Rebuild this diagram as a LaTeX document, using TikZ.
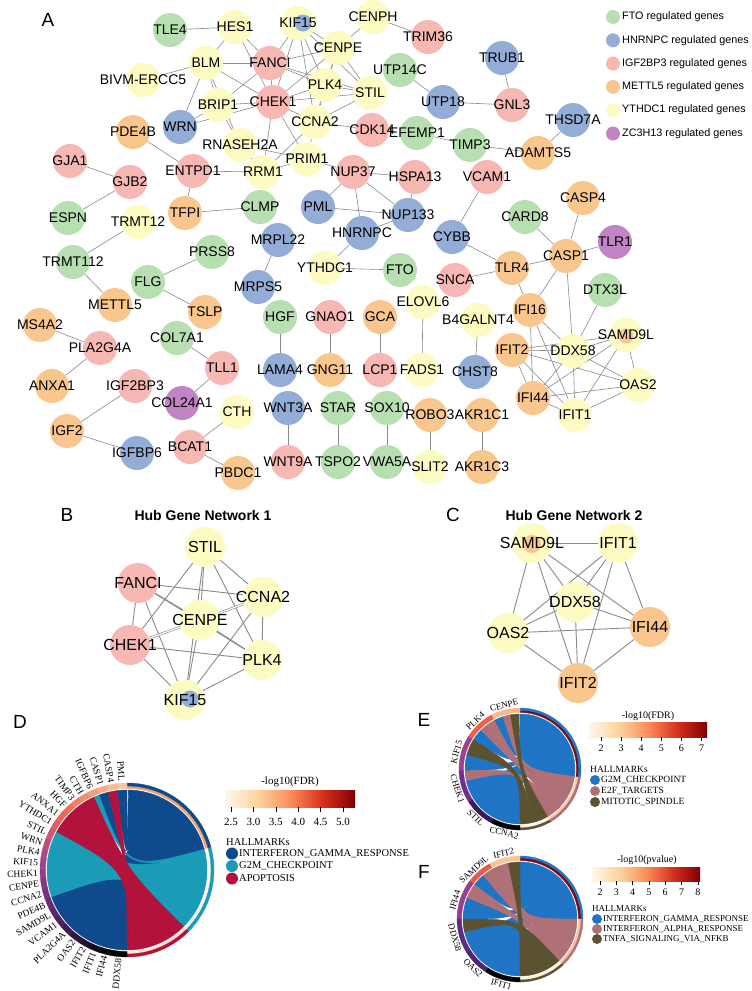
\documentclass[tikz,border=0pt]{standalone}
\usepackage{fontspec}
\setmainfont{Liberation Sans}
\newfontfamily\tnr{Liberation Serif}
\usetikzlibrary{backgrounds}
\definecolor{cfto}{HTML}{B8DFB2}
\definecolor{chnr}{HTML}{93ADD6}
\definecolor{cigf}{HTML}{F7B7B2}
\definecolor{cmet}{HTML}{F9C78E}
\definecolor{cyth}{HTML}{FBFBC2}
\definecolor{czc}{HTML}{C384C6}
\definecolor{edgec}{HTML}{8A8A8A}
\definecolor{dblue}{HTML}{0E4A8C}
\definecolor{dteal}{HTML}{1A9BB6}
\definecolor{dred}{HTML}{B3123C}
\definecolor{eblue}{HTML}{1F74C6}
\definecolor{epink}{HTML}{B07078}
\definecolor{eolive}{HTML}{5B5230}
\definecolor{g0}{HTML}{F9D0A8}
\definecolor{g1}{HTML}{EF6F55}
\definecolor{g2}{HTML}{9B3C95}
\definecolor{g3}{HTML}{3F1C55}
\definecolor{g4}{HTML}{050505}
\definecolor{s0}{HTML}{FFF7EC}
\definecolor{s1}{HTML}{FDD49E}
\definecolor{s2}{HTML}{FC8D59}
\definecolor{s3}{HTML}{D7301F}
\definecolor{s4}{HTML}{7F0000}
\definecolor{rD1}{HTML}{F5A26C}
\definecolor{rD2}{HTML}{FDF3EA}
\definecolor{rD3}{HTML}{FDE4D0}
\definecolor{rE1}{HTML}{7F0A0A}
\definecolor{rE2}{HTML}{F9CBA8}
\definecolor{rE3}{HTML}{FDF0E3}
\definecolor{rF1}{HTML}{7D0A10}
\definecolor{rF2}{HTML}{F8C49C}
\definecolor{rF3}{HTML}{FDEEE0}
\definecolor{k1}{HTML}{F8B98C}
\definecolor{k2}{HTML}{EC5F4B}
\definecolor{k3}{HTML}{A23F8E}
\definecolor{k4}{HTML}{6C2F90}
\definecolor{k5}{HTML}{3A1A5E}
\definecolor{k6}{HTML}{000000}
\definecolor{m1}{HTML}{F9C595}
\definecolor{m2}{HTML}{EA5A4C}
\definecolor{m3}{HTML}{9B3D8F}
\definecolor{m4}{HTML}{5C2C85}
\definecolor{m5}{HTML}{4C2575}
\pgfdeclarehorizontalshading{fdrshade}{100bp}{color(0bp)=(s0); color(25bp)=(s0); color(37.5bp)=(s1); color(50bp)=(s2); color(62.5bp)=(s3); color(75bp)=(s4); color(100bp)=(s4)}
\newcommand\chordrib[6]{\filldraw[fill=#6,draw=#6,line width=0.4pt] (#1:#5) arc[start angle=#1,end angle=#2,radius=#5] .. controls (0,0) .. (#3:#5) arc[start angle=#3,end angle=#4,radius=#5] .. controls (0,0) .. (#1:#5) -- cycle;}
\newcommand\chordseg[5]{\filldraw[fill=#5,draw=#5,line width=0.3pt] (#1:#4) arc[start angle=#1,end angle=#2,radius=#4] -- (#2:#3) arc[start angle=#2,end angle=#1,radius=#3] -- cycle;}
% tangential label: name, angle, radius, text
\newcommand\tanlab[4]{\ifdim #2pt<180pt
  \node[elab,anchor=south,rotate=#2-90] (#1) at (#2:#3) {#4};
 \else
  \node[elab,anchor=north,rotate=#2-270] (#1) at (#2:#3) {#4};
 \fi}
\def\geneA{TLE4/170/30/cfto, HES1/235/27/cyth, KIF15/298/23/cyth, CENPH/373/17/cyth, TRIM36/428/37/cigf, BLM/206/63/cyth, FANCI/270/63/cigf, CENPE/338/48/cyth, BIVM-ERCC5/143/80/cyth, UTP14C/400/70/cfto, TRUB1/502/58/chnr, PLK4/325/85/cyth, STIL/370/93/cyth, BRIP1/218/105/cyth, CHEK1/273/102/cigf, UTP18/443/102/chnr, GNL3/512/105/cigf, THSD7A/573/120/chnr, WRN/180/127/chnr, PDE4B/133/132/cmet, CCNA2/315/122/cyth, CDK14/372/130/cigf, EFEMP1/417/133/cfto, TIMP3/470/145/cfto, RNASEH2A/240/145/cyth, ADAMTS5/538/153/cmet, GJA1/70/161/cigf, PRIM1/307/159/cyth, RRM1/263/172/cyth, ENTPD1/193/171/cigf, NUP37/353/172/cigf, HSPA13/415/177/cigf, VCAM1/487/177/cigf, GJB2/130/182/cigf, CASP4/583/198/cmet, CLMP/260/207/cfto, TFPI/185/213/cmet, PML/318/207/chnr, NUP133/408/215/chnr, ESPN/68/218/cfto, CARD8/525/217/cfto, TRMT12/138/222/cyth, HNRNPC/362/233/chnr, CYBB/452/237/chnr, MRPL22/278/240/chnr, TLR1/615/242/czc, CASP1/566/256/cmet, PRSS8/212/252/cfto, TRMT112/73/262/cfto, YTHDC1/325/268/cyth, FTO/400/270/cfto, TLR4/512/268/cmet, SNCA/455/280/cigf, FLG/148/282/cfto, MRPS5/258/287/chnr, DTX3L/605/290/cfto, ELOVL6/423/302/cyth, METTL5/115/305/cmet, IFI16/530/310/cmet, TSLP/205/312/cmet, HGF/280/317/cfto, GNAO1/330/317/cigf, GCA/380/317/cmet, B4GALNT4/478/320/cyth, MS4A2/40/325/cmet, SAMD9L/626/335/cyth, COL7A1/177/338/cfto, PLA2G4A/100/348/cigf, IFIT2/512/350/cmet, DDX58/573/351/cyth, TLL1/222/368/cigf, LAMA4/280/370/chnr, GNG11/330/370/cmet, LCP1/380/370/cigf, FADS1/422/370/cyth, CHST8/475/372/chnr, OAS2/638/385/cyth, ANXA1/52/386/cmet, IGF2BP3/135/386/cigf, IFI44/533/398/cmet, COL24A1/182/403/czc, CTH/237/412/cyth, WNT3A/288/408/chnr, STAR/338/408/cfto, SOX10/387/408/cfto, ROBO3/430/415/cmet, AKR1C1/482/415/cmet, IFIT1/575/415/cyth, IGF2/67/431/cmet, BCAT1/190/447/cigf, IGFBP6/137/453/chnr, WNT9A/288/462/cigf, TSPO2/338/462/cfto, VWA5A/387/462/cfto, SLIT2/430/467/cyth, AKR1C3/482/467/cmet, PBDC1/238/473/cmet}
\def\geneB{bSTIL/205/547/cyth/STIL, bFANCI/138/583/cigf/FANCI, bCCNA2/263/597/cyth/CCNA2, bCENPE/200/620/cyth/CENPE, bCHEK1/130/645/cigf/CHEK1, bPLK4/262/660/cyth/PLK4, bKIF15/185/700/cyth/KIF15, cSAMD9L/532/543/cyth/SAMD9L, cIFIT1/618/543/cyth/IFIT1, cDDX58/575/602/cyth/DDX58, cOAS2/508/633/cyth/OAS2, cIFI44/650/627/cmet/IFI44, cIFIT2/578/683/cmet/IFIT2}
\begin{document}
\begin{tikzpicture}[x=1pt,y=-1pt,
 gc/.style={circle,minimum size=34pt,inner sep=0pt},
 glab/.style={font=\fontsize{14}{14}\selectfont,inner sep=0pt},
 bc/.style={circle,minimum size=40pt,inner sep=0pt},
 blab/.style={font=\fontsize{16}{16}\selectfont,inner sep=0pt},
 edge/.style={draw=edgec,line width=0.6pt},
 bedge/.style={draw=edgec,line width=0.9pt},
 panel/.style={font=\fontsize{19}{19}\selectfont,inner sep=0pt},
 htitle/.style={font=\bfseries\fontsize{14}{14}\selectfont,inner sep=0pt},
 legt/.style={font=\fontsize{10.8}{11}\selectfont,anchor=west,inner sep=0pt},
 legc/.style={circle,minimum size=14pt,inner sep=0pt},
 dlab/.style={font=\tnr\fontsize{9.5}{9.5}\selectfont,inner sep=0pt,anchor=east},
 elab/.style={font=\tnr\fontsize{9}{9}\selectfont,inner sep=0.5pt},
 hmk/.style={font=\tnr\fontsize{10.5}{10.5}\selectfont,anchor=west,inner sep=0pt},
 hmke/.style={font=\tnr\fontsize{9.5}{9.5}\selectfont,anchor=west,inner sep=0pt},
 hmkf/.style={font=\tnr\fontsize{9}{9}\selectfont,anchor=west,inner sep=0pt},
 cbl/.style={font=\tnr\fontsize{10}{10}\selectfont,inner sep=0pt},
 cbt/.style={font=\tnr\fontsize{10}{10}\selectfont,inner sep=0pt},
 tick/.style={draw=black,line width=0.5pt}]
\useasboundingbox (0,0) rectangle (752,991);
\begin{scope}[on background layer]
\fill[white] (0,0) rectangle (752,991);
\end{scope}
% ---------- panel A ----------
\foreach \nm/\px/\py/\cc in \geneA {\node[gc,fill=\cc] (\nm) at (\px,\py) {};}
\node[circle,fill=chnr,minimum size=17pt,inner sep=0pt] (KIF15p) at (303,23) {};
\node[circle,fill=cmet,minimum size=15pt,inner sep=0pt] (SAMD9Lp) at (626,336) {};
\foreach \nm/\px/\py/\cc in \geneA {\node[glab] (t\nm) at (\nm) {\nm};}
\begin{scope}[on background layer]
\foreach \ea/\eb in {TLE4/HES1, HES1/BLM, HES1/FANCI, HES1/CHEK1, BLM/FANCI, BLM/BIVM-ERCC5, BLM/BRIP1, BLM/WRN, BLM/CHEK1, BLM/RNASEH2A, BRIP1/FANCI, BRIP1/CHEK1, BRIP1/WRN, WRN/CHEK1, BRIP1/RNASEH2A, PDE4B/ENTPD1, GJA1/GJB2, ENTPD1/RRM1, ENTPD1/TFPI, RNASEH2A/RRM1, RNASEH2A/PRIM1, KIF15/FANCI, KIF15/CHEK1, KIF15/CENPE, KIF15/PLK4, KIF15/STIL, KIF15/CCNA2, CENPH/CENPE, CENPH/TRIM36, CENPE/FANCI, CENPE/CHEK1, CENPE/PLK4, CENPE/STIL, CENPE/CCNA2, FANCI/PLK4, FANCI/CHEK1, FANCI/STIL, PLK4/STIL, PLK4/CHEK1, PLK4/CCNA2, STIL/CHEK1, STIL/CCNA2, CHEK1/CCNA2, CHEK1/PRIM1, CHEK1/RRM1, CCNA2/CDK14, CCNA2/PRIM1, CCNA2/RRM1, PRIM1/RRM1, UTP14C/UTP18, UTP18/GNL3, TRUB1/GNL3, EFEMP1/TIMP3, TIMP3/ADAMTS5, THSD7A/ADAMTS5, PRIM1/NUP37, NUP37/HSPA13, NUP37/PML, NUP37/HNRNPC, NUP37/NUP133, HSPA13/NUP133, PML/NUP133, HNRNPC/NUP133, HNRNPC/YTHDC1, YTHDC1/FTO, MRPL22/MRPS5, VCAM1/CYBB, CYBB/TLR4, SNCA/TLR4, HGF/LAMA4, GNAO1/GNG11, GCA/LCP1, ELOVL6/FADS1, B4GALNT4/CHST8, CLMP/TFPI, GJB2/ESPN, TRMT12/TRMT112, TRMT112/METTL5, PRSS8/FLG, FLG/TSLP, MS4A2/PLA2G4A, PLA2G4A/ANXA1, COL7A1/TLL1, TLL1/COL24A1, IGF2BP3/IGF2, IGF2/IGFBP6, CTH/BCAT1, BCAT1/PBDC1, WNT3A/WNT9A, STAR/TSPO2, SOX10/VWA5A, ROBO3/SLIT2, AKR1C1/AKR1C3, CASP4/CASP1, CARD8/CASP1, TLR1/CASP1, TLR4/CASP1, CASP1/IFI16, CASP1/DDX58, TLR4/IFI16, DTX3L/DDX58, IFI16/DDX58, IFI16/IFI44, IFI16/IFIT1, IFIT2/DDX58, IFIT2/SAMD9L, IFIT2/OAS2, IFIT2/IFIT1, IFIT2/IFI44, DDX58/SAMD9L, DDX58/OAS2, DDX58/IFIT1, DDX58/IFI44, SAMD9L/OAS2, SAMD9L/IFI44, SAMD9L/IFIT1, OAS2/IFI44, OAS2/IFIT1, IFI44/IFIT1}
  {\draw[edge] (\ea) -- (\eb);}
\end{scope}
% legend
\foreach \cc/\tx [count=\i from 0] in {cfto/FTO, chnr/HNRNPC, cigf/IGF2BP3, cmet/METTL5, cyth/YTHDC1, czc/ZC3H13}
 {\node[legc,fill=\cc] (lg\i) at (613,17+23.3*\i) {};
  \node[legt] (lgt\i) at (622,17+23.3*\i) {\tx\ regulated genes};}
\node[panel] (pA) at (48,20) {A};
% ---------- panels B and C ----------
\node[panel] (pB) at (67,515) {B};
\node[panel] (pC) at (453,515) {C};
\node[htitle] (tB) at (203,515) {Hub Gene Network 1};
\node[htitle] (tC) at (574,515) {Hub Gene Network 2};
\foreach \nm/\px/\py/\cc/\tx in \geneB {\node[bc,fill=\cc] (\nm) at (\px,\py) {};}
\node[circle,fill=chnr,minimum size=17pt,inner sep=0pt] (bKIF15p) at (190,699) {};
\node[circle,fill=cmet,minimum size=18pt,inner sep=0pt] (cSAMD9Lp) at (532,544) {};
\foreach \nm/\px/\py/\cc/\tx in \geneB {\node[blab] (t\nm) at (\nm) {\tx};}
\begin{scope}[on background layer]
\foreach \ea/\eb in {bSTIL/bCCNA2, bSTIL/bCENPE, bSTIL/bCHEK1, bSTIL/bPLK4, bSTIL/bKIF15, bFANCI/bCCNA2, bFANCI/bCENPE, bFANCI/bCHEK1, bFANCI/bPLK4, bFANCI/bKIF15, bCCNA2/bCHEK1, bCCNA2/bPLK4, bCCNA2/bKIF15, bCENPE/bPLK4, bCENPE/bKIF15, bCHEK1/bPLK4, bCHEK1/bKIF15, bPLK4/bKIF15, cSAMD9L/cIFIT1, cSAMD9L/cDDX58, cSAMD9L/cOAS2, cSAMD9L/cIFI44, cSAMD9L/cIFIT2, cIFIT1/cDDX58, cIFIT1/cOAS2, cIFIT1/cIFI44, cIFIT1/cIFIT2, cDDX58/cOAS2, cDDX58/cIFI44, cDDX58/cIFIT2, cOAS2/cIFI44, cOAS2/cIFIT2, cIFI44/cIFIT2}
  {\draw[bedge] (\ea) -- (\eb);}
\draw[draw=edgec,line width=0.6pt,double=white,double distance=1.2pt] (bCENPE) -- (bCCNA2);
\draw[draw=edgec,line width=0.6pt,double=white,double distance=1.2pt] (bCENPE) -- (bCHEK1);
\end{scope}
% ---------- panel D ----------
\node[panel] (pD) at (20,722) {D};
\begin{scope}[shift={(127,870)},yscale=-1]
 \chordrib{199.5}{270}{375}{438}{80}{dblue}
 \chordrib{151.5}{199.5}{315}{371}{80}{dteal}
 \chordrib{114}{151.5}{274}{315}{80}{dred}
 \chordrib{90}{97}{443}{449}{80}{dblue}
 \chordrib{103.5}{110.5}{438}{443}{80}{dblue}
 \chordrib{110.5}{114}{371}{375}{80}{dteal}
 \chordrib{97}{103.5}{270}{274}{80}{dred}
 \chordseg{15}{90}{81.5}{84}{rD1}
 \chordseg{15}{90}{84}{87}{dblue}
 \chordseg{-45}{15}{81.5}{84}{rD2}
 \chordseg{-45}{15}{84}{87}{dteal}
 \chordseg{-90}{-45}{81.5}{84}{rD3}
 \chordseg{-90}{-45}{84}{87}{dred}
 \foreach \g/\aa/\ab/\cl/\md in {PML/90/97/g0!91!g1/93.5, CASP4/97/103.5/g0!78!g1/100.2, CASP1/103.5/110.5/g0!62!g1/107, IGFBP6/110.5/117.5/g0!47!g1/114, CTH/117.5/124/g0!31!g1/120.7, TIMP3/124/130.5/g0!18!g1/127.2, HGF/130.5/137.5/g1/134, ANXA1/137.5/144.5/g1!87!g2/141, YTHDC1/144.5/151.5/g1!71!g2/148, STIL/151.5/158.5/g1!56!g2/155, WRN/158.5/165.5/g1!40!g2/162, PLK4/165.5/172/g1!24!g2/168.7, KIF15/172/179/g1!10!g2/175.5, CHEK1/179/185.5/g2!96!g3/182.2, CENPE/185.5/192.5/g2!80!g3/189, CCNA2/192.5/199.5/g2!64!g3/196, PDE4B/199.5/206.5/g2!49!g3/203, SAMD9L/206.5/213.5/g2!33!g3/210, VCAM1/213.5/221/g2!18!g3/217.2, PLA2G4A/221/229/g3/225, OAS2/229/237/g3!75!g4/233, IFIT2/237/244.5/g3!50!g4/240.7, IFIT1/244.5/251.5/g3!30!g4/248, IFI44/251.5/259/g3!15!g4/255.2, DDX58/259/270/g4/264.5}
 {\chordseg{\aa}{\ab}{81.5}{87}{\cl}
  \node[dlab,rotate=\md-180] (d\g) at (\md:89) {\g};}
\end{scope}
\node[cbl,font=\tnr\fontsize{11}{11}\selectfont] (dcb) at (290,782) {-log10(FDR)};
\shade[shading=fdrshade] (225,790) rectangle (355,807);
\foreach \v [count=\i from 0] in {2.5,3.0,3.5,4.0,4.5,5.0}
 {\draw[tick] (231+22.4*\i,807) -- ++(0,5);
  \node[cbt,font=\tnr\fontsize{11}{11}\selectfont] (dt\i) at (231+22.4*\i,822) {\v};}
\node[hmk] (dh) at (226,842) {HALLMARKs};
\foreach \cc/\tx [count=\i] in {dblue/INTERFERON\_GAMMA\_RESPONSE, dteal/G2M\_CHECKPOINT, dred/APOPTOSIS}
 {\node[circle,fill=\cc,minimum size=12pt,inner sep=0pt] (dhc\i) at (232,841+12.5*\i) {};
  \node[hmk] (dht\i) at (239,841+12.5*\i) {\tx};}
% ---------- panel E ----------
\node[panel] (pE) at (424,720) {E};
\begin{scope}[shift={(520,769)},yscale=-1]
 \chordrib{240}{270}{352}{372}{55}{eblue}
 \chordrib{213}{240}{372}{392}{55}{eblue}
 \chordrib{192}{213}{392}{410}{55}{eblue}
 \chordrib{165}{182}{410}{424}{55}{eblue}
 \chordrib{135}{148}{424}{436}{55}{eblue}
 \chordrib{108}{118}{436}{450}{55}{eblue}
 \chordrib{182}{192}{300}{315}{55}{epink}
 \chordrib{118}{135}{315}{338}{55}{epink}
 \chordrib{100}{108}{338}{352}{55}{epink}
 \chordrib{148}{165}{270}{285}{55}{eolive}
 \chordrib{91}{100}{285}{300}{55}{eolive}
 \chordseg{-8}{90}{56.5}{58.8}{rE1}
 \chordseg{-8}{90}{58.8}{61}{eblue}
 \chordseg{-60}{-8}{56.5}{58.8}{rE2}
 \chordseg{-60}{-8}{58.8}{61}{epink}
 \chordseg{-90}{-60}{56.5}{58.8}{rE3}
 \chordseg{-90}{-60}{58.8}{61}{eolive}
 \foreach \g/\aa/\ab/\cl/\md in {CENPE/90/118/k1/104, PLK4/118/148/k2/133, KIF15/148/182/k3/165, CHEK1/182/213/k4/197.5, STIL/213/242/k5/227.5, CCNA2/242/270/k6/256}
 {\chordseg{\aa}{\ab}{56.5}{61}{\cl}
  \tanlab{e\g}{\md}{62}{\g}}
\end{scope}
\node[cbl] (ecb) at (648,716) {-log10(FDR)};
\shade[shading=fdrshade] (589,722) rectangle (707,737);
\foreach \v [count=\i from 0] in {2,3,4,5,6,7}
 {\draw[tick] (601+20.1*\i,737) -- ++(0,4);
  \node[cbt] (et\i) at (601+20.1*\i,748) {\v};}
\node[hmke] (eh) at (590,769) {HALLMARKs};
\foreach \cc/\tx [count=\i] in {eblue/G2M\_CHECKPOINT, epink/E2F\_TARGETS, eolive/MITOTIC\_SPINDLE}
 {\node[circle,fill=\cc,minimum size=10pt,inner sep=0pt] (ehc\i) at (595,769+11*\i) {};
  \node[hmke] (eht\i) at (601,769+11*\i) {\tx};}
% ---------- panel F ----------
\node[panel] (pF) at (424,872) {F};
\begin{scope}[shift={(520,919)},yscale=-1]
 \chordrib{130}{143}{437}{450}{57}{eblue}
 \chordrib{158}{180}{415}{437}{57}{eblue}
 \chordrib{193}{212}{395}{415}{57}{eblue}
 \chordrib{212}{237}{375}{395}{57}{eblue}
 \chordrib{237}{270}{360}{375}{57}{eblue}
 \chordrib{102}{119}{343}{360}{57}{epink}
 \chordrib{119}{130}{330}{343}{57}{epink}
 \chordrib{143}{158}{313}{330}{57}{epink}
 \chordrib{90}{102}{270}{285}{57}{eolive}
 \chordrib{180}{193}{285}{313}{57}{eolive}
 \chordseg{0}{90}{58.5}{61}{rF1}
 \chordseg{0}{90}{61}{63}{eblue}
 \chordseg{-47}{0}{58.5}{61}{rF2}
 \chordseg{-47}{0}{61}{63}{epink}
 \chordseg{-90}{-47}{58.5}{61}{rF3}
 \chordseg{-90}{-47}{61}{63}{eolive}
 \foreach \g/\aa/\ab/\cl/\md in {IFIT2/90/119/m1/104, SAMD9L/119/143/m2/133, IFI44/143/180/m3/164, DDX58/180/212/m4/196, OAS2/212/237/m5/226, IFIT1/237/270/k6/254}
 {\chordseg{\aa}{\ab}{58.5}{63}{\cl}
  \tanlab{f\g}{\md}{64}{\g}}
\end{scope}
\node[cbl] (fcb) at (647,860) {-log10(pvalue)};
\shade[shading=fdrshade] (592,867) rectangle (700,881);
\foreach \v [count=\i from 0] in {2,3,4,5,6,7,8}
 {\draw[tick] (600+16.3*\i,881) -- ++(0,4);
  \node[cbt] (ft\i) at (600+16.3*\i,892) {\v};}
\node[hmkf] (fh) at (592,909) {HALLMARKs};
\foreach \cc/\tx [count=\i] in {eblue/INTERFERON\_GAMMA\_RESPONSE, epink/INTERFERON\_ALPHA\_RESPONSE, eolive/TNFA\_SIGNALING\_VIA\_NFKB}
 {\node[circle,fill=\cc,minimum size=10pt,inner sep=0pt] (fhc\i) at (597,909+10*\i) {};
  \node[hmkf] (fht\i) at (603,909+10*\i) {\tx};}
\end{tikzpicture}
\end{document}
